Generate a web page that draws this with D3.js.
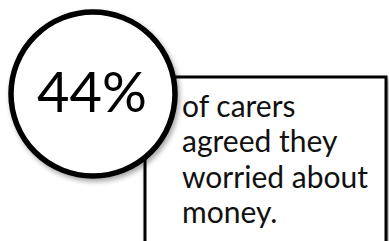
<!DOCTYPE html>
<html>
<head>
<meta charset="utf-8">
<script src="https://cdn.jsdelivr.net/npm/d3@7"></script>
<style>
  html, body { margin: 0; padding: 0; background: #fff; }
  svg { display: block; }
</style>
</head>
<body>
<div id="canvas"></div>
<script>
const values = [44]
const valueLabels = ['44%']
const captionLines = ['of carers', 'agreed they', 'worried about', 'money.']

const width = 389
const height = 241
const font = 'Lato, "Open Sans", sans-serif'

const svg = d3.select('#canvas')
  .append('svg')
    .attr('width', width)
    .attr('height', height)

const defs = svg.append('defs')
const shadow = defs.append('filter')
  .attr('id', 'shadow')
  .attr('x', '-20%').attr('y', '-20%')
  .attr('width', '140%').attr('height', '140%')
shadow.append('feDropShadow')
  .attr('dx', 2).attr('dy', 3)
  .attr('stdDeviation', 2.5)
  .attr('flood-color', '#000')
  .attr('flood-opacity', 0.35)

// caption box, sits behind the circle
const box = { x: 145, y: 77, w: 241, h: 175 }
svg.append('rect')
  .attr('x', box.x)
  .attr('y', box.y)
  .attr('width', box.w)
  .attr('height', box.h)
  .attr('fill', '#fff')
  .attr('stroke', '#000')
  .attr('stroke-width', 3)
  .attr('filter', 'url(#shadow)')

const lineY = d3.scaleLinear()
  .domain([0, captionLines.length - 1])
  .range([117, 223])

svg.append('g')
  .selectAll('text')
  .data(captionLines)
  .join('text')
    .attr('x', 182)
    .attr('y', (d, i) => lineY(i))
    .attr('font-family', font)
    .attr('font-size', 30)
    .attr('fill', '#111')
    .text(d => d)

// circle with the percentage
const circle = svg.append('g')
  .selectAll('g')
  .data(values)
  .join('g')
    .attr('transform', 'translate(93, 94)')

circle.append('circle')
  .attr('r', 82)
  .attr('fill', '#fff')
  .attr('stroke', '#000')
  .attr('stroke-width', 5.5)
  .attr('filter', 'url(#shadow)')

circle.append('text')
  .attr('x', -1)
  .attr('y', 18)
  .attr('text-anchor', 'middle')
  .attr('font-family', font)
  .attr('font-size', 56)
  .attr('fill', '#000')
  .text((d, i) => valueLabels[i])
</script>
</body>
</html>
